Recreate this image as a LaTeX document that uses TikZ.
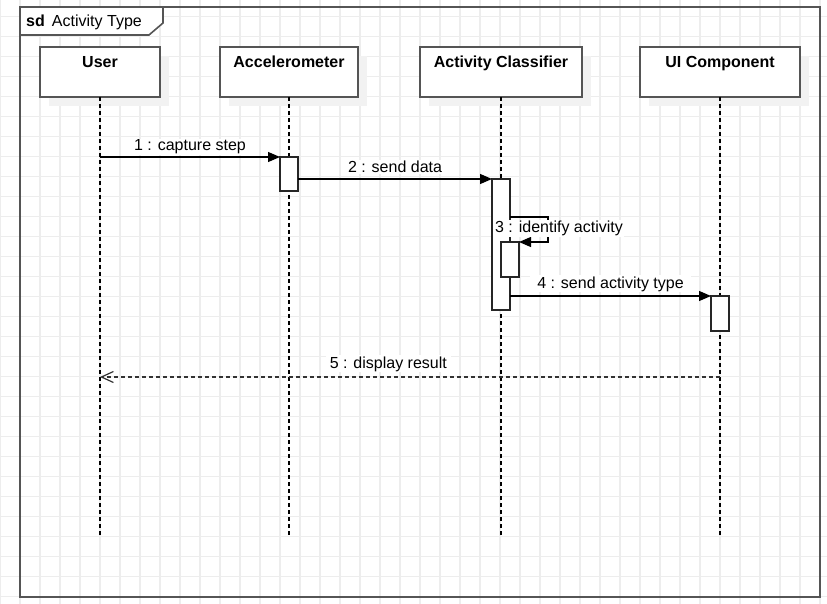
\documentclass[tikz,border=0pt]{standalone}
\usepackage{fontspec}
\setmainfont{Liberation Sans}
\usetikzlibrary{positioning, arrows.meta, shadows}
\definecolor{gridgray}{HTML}{EDEDED}
\definecolor{edgegray}{HTML}{555555}

\begin{document}
\begin{tikzpicture}[x=1pt, y=-1pt, font=\fontsize{16}{19}\selectfont,
        gridline/.style={gridgray, line width=1.2pt},
        frame/.style={draw=edgegray, line width=1.6pt},
        lifebox/.style={draw=edgegray, line width=1.6pt, fill=white, outer sep=0pt,
            minimum height=50pt, text height=12pt, text depth=20pt, font=\fontsize{16}{19}\selectfont\bfseries,
            general shadow={fill=black!5, shadow xshift=9pt, shadow yshift=-9pt}},
        lifeline/.style={line width=1.2pt, dash pattern=on 4pt off 3pt},
        actbox/.style={draw=black!85, line width=1.2pt, fill=white, outer sep=0pt, inner sep=0pt, minimum width=18pt},
        msg/.style={line width=1.2pt, -{Triangle[length=12pt, width=10pt]}},
        reply/.style={draw=black!80, line width=1.2pt, dash pattern=on 4pt off 3pt, -{Straight Barb[length=12pt, width=11pt]}},
        msglabel/.style={midway, anchor=base, yshift=6pt, fill=white, inner xsep=4pt, inner ysep=1pt}]
    \useasboundingbox (0,0) rectangle (827,604);
    \foreach \gx in {0,20,...,820}
        \draw[gridline] (\gx,0) -- (\gx,604);
    \foreach \k in {0,...,29}
        \draw[gridline] (0,{16.7+20*\k}) -- (827,{16.7+20*\k});

    \draw[frame] (20,7) rectangle (820,597);
    \draw[frame, fill=white] (20,7) -- (163,7) -- (163,23) -- (149,35) -- (20,35) -- cycle;
    \node[anchor=base west, inner sep=0pt] (title) at (26,26.5) {\textbf{sd}\, Activity Type};

    \node[lifebox, minimum width=120pt, anchor=north west] (user) at (40,47) {User};
    \node[lifebox, minimum width=138pt, right=60pt of user] (accel) {Accelerometer};
    \node[lifebox, minimum width=162pt, right=62pt of accel] (cls) {Activity Classifier};
    \node[lifebox, minimum width=160pt, right=58pt of cls] (ui) {UI Component};

    \coordinate (bottom) at (0,537);
    \foreach \obj in {user, accel, cls, ui}
        \draw[lifeline] (\obj.south) -- (\obj.south |- bottom);

    \node[actbox, minimum height=34pt, anchor=north] (accact) at (289,157) {};
    \node[actbox, minimum height=131pt, anchor=north] (clsact) at (501,179) {};
    \node[actbox, minimum height=35pt, anchor=north] (selfact) at (510,242) {};
    \node[actbox, minimum height=35pt, anchor=north] (uiact) at (720,296) {};

    \draw[msg] (user |- accact.north) -- node[msglabel] (m1) {1 : capture step} (accact.north west);
    \draw[msg] (accact.east |- clsact.north) -- node[msglabel] (m2) {2 : send data} (clsact.north west);
    \coordinate (loop) at (548,217);
    \draw[msg] (clsact.east |- loop) -- (loop) -- (loop |- selfact.north) -- (selfact.north east);
    \node[anchor=base, fill=white, inner xsep=1pt, inner ysep=1pt] (m3) at (559,233) {3 : identify activity};
    \draw[msg] (clsact.east |- uiact.north) -- node[msglabel, inner xsep=7pt, yshift=2pt] (m4) {4 : send activity type} (uiact.north west);
    \coordinate (m5y) at (0,377);
    \draw[reply] (ui |- m5y) -- node[msglabel, pos=0.535, yshift=3pt] (m5) {5 : display result} (user |- m5y);
\end{tikzpicture}
\end{document}
